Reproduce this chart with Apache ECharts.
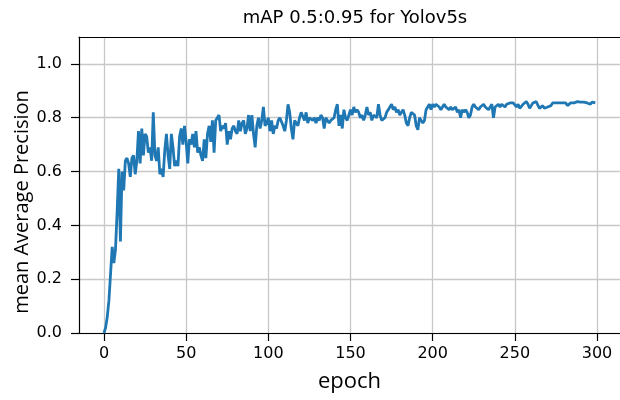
<!DOCTYPE html>
<html>
<head>
<meta charset="utf-8">
<script src="https://cdn.jsdelivr.net/npm/echarts@6/dist/echarts.min.js"></script>
<style>html,body{margin:0;padding:0;background:#fff}#c{width:620px;height:400px}</style>
</head>
<body>
<div id="c"></div>
<script>
const chartTitle = 'mAP 0.5:0.95 for Yolov5s';
const xName = 'epoch';
const yName = 'mean Average Precision';
const xTicks = [0, 50, 100, 150, 200, 250, 300];
const yTicks = [0, 0.2, 0.4, 0.6, 0.8, 1.0];
const mapValues = [
  0.00,0.02,0.06,0.12,0.22,0.32,0.26,0.31,0.45,0.61,
  0.34,0.60,0.53,0.64,0.65,0.63,0.58,0.65,0.66,0.59,
  0.64,0.75,0.63,0.76,0.66,0.74,0.73,0.67,0.69,0.64,
  0.82,0.66,0.64,0.69,0.59,0.61,0.58,0.68,0.74,0.66,
  0.61,0.74,0.69,0.62,0.64,0.62,0.73,0.76,0.70,0.77,
  0.71,0.63,0.72,0.70,0.74,0.69,0.75,0.67,0.69,0.66,
  0.64,0.72,0.65,0.74,0.77,0.71,0.79,0.67,0.79,0.79,
  0.81,0.75,0.77,0.76,0.78,0.70,0.75,0.72,0.76,0.77,
  0.75,0.74,0.79,0.75,0.78,0.79,0.74,0.76,0.81,0.75,
  0.81,0.74,0.69,0.77,0.80,0.76,0.79,0.84,0.77,0.78,
  0.80,0.75,0.79,0.74,0.77,0.76,0.79,0.80,0.80,0.77,
  0.75,0.79,0.85,0.82,0.76,0.72,0.79,0.79,0.77,0.80,
  0.82,0.82,0.79,0.82,0.78,0.80,0.80,0.79,0.80,0.78,
  0.80,0.79,0.81,0.80,0.76,0.80,0.79,0.78,0.79,0.79,
  0.80,0.83,0.85,0.77,0.81,0.76,0.83,0.80,0.79,0.81,
  0.83,0.81,0.84,0.82,0.83,0.82,0.80,0.81,0.79,0.81,
  0.84,0.81,0.82,0.79,0.81,0.81,0.80,0.85,0.81,0.79,
  0.79,0.80,0.82,0.83,0.84,0.85,0.83,0.84,0.82,0.83,
  0.81,0.82,0.83,0.81,0.78,0.77,0.80,0.82,0.82,0.81,
  0.77,0.755,0.80,0.80,0.78,0.79,0.83,0.84,0.85,0.83,
  0.85,0.84,0.85,0.85,0.84,0.83,0.84,0.85,0.84,0.84,
  0.83,0.84,0.83,0.83,0.84,0.82,0.83,0.80,0.83,0.82,
  0.83,0.82,0.80,0.81,0.84,0.85,0.84,0.84,0.83,0.84,
  0.84,0.85,0.84,0.84,0.83,0.84,0.85,0.80,0.84,0.84,
  0.85,0.84,0.85,0.85,0.84,0.85,0.85,0.855,0.86,0.855,
  0.85,0.84,0.85,0.835,0.84,0.85,0.855,0.86,0.85,0.835,
  0.845,0.855,0.85,0.86,0.855,0.835,0.84,0.845,0.835,0.84,
  0.84,0.835,0.845,0.855,0.85,0.855,0.85,0.855,0.85,0.855,
  0.86,0.855,0.845,0.85,0.855,0.85,0.855,0.86,0.86,0.862,
  0.858,0.855,0.858,0.86,0.855,0.855,0.85,0.858,0.855,0.855
];

const chart = echarts.init(document.getElementById('c'), null, {renderer: 'canvas'});
const tickFont = {fontFamily: 'DejaVu Sans', fontSize: 16, color: '#000'};
const X_MIN = -15.2, X_MAX = 314.0;
chart.setOption({
  animation: false,
  backgroundColor: '#fff',
  title: {
    text: chartTitle, left: 350, top: 4, textAlign: 'center',
    textStyle: {fontFamily: 'DejaVu Sans', fontSize: 18, fontWeight: 'normal', color: '#000'}
  },
  graphic: [{
    type: 'text', x: 22, y: 202, rotation: Math.PI / 2,
    style: {text: yName, fontFamily: 'Open Sans', fontSize: 20, fill: '#000', align: 'center', verticalAlign: 'middle'}
  }],
  grid: {left: 79, right: 0, top: 37, bottom: 67, show: false, containLabel: false},
  xAxis: [{
    type: 'value', min: X_MIN, max: X_MAX,
    name: xName, nameLocation: 'middle', nameGap: 38,
    nameTextStyle: {fontFamily: 'Open Sans', fontSize: 22, color: '#000'},
    axisLine: {show: true, onZero: false, lineStyle: {color: '#000', width: 1.2}},
    axisTick: {show: true, length: 8, customValues: xTicks, lineStyle: {color: '#000', width: 1.2}},
    axisLabel: Object.assign({customValues: xTicks, margin: 13}, tickFont),
    splitLine: {show: true, lineStyle: {color: '#c8c8c8', width: 1.3}}
  }, {
    type: 'value', position: 'top', min: X_MIN, max: X_MAX,
    axisLine: {show: true, onZero: false, lineStyle: {color: '#000', width: 1.2}},
    axisTick: {show: false}, axisLabel: {show: false}, splitLine: {show: false}
  }],
  yAxis: {
    type: 'value', min: 0, max: 1.1,
    axisLine: {show: true, onZero: false, lineStyle: {color: '#000', width: 1.2}},
    axisTick: {show: true, length: 8, customValues: yTicks, lineStyle: {color: '#000', width: 1.2}},
    axisLabel: Object.assign({customValues: yTicks, margin: 17, formatter: v => v.toFixed(1)}, tickFont),
    splitLine: {show: true, lineStyle: {color: '#c8c8c8', width: 1.3}}
  },
  series: [{
    type: 'line', showSymbol: false, symbol: 'none', xAxisIndex: 0,
    data: mapValues.map((v, i) => [i, v]),
    lineStyle: {color: '#1f77b4', width: 2.8},
    clip: true
  }]
});
</script>
</body>
</html>
